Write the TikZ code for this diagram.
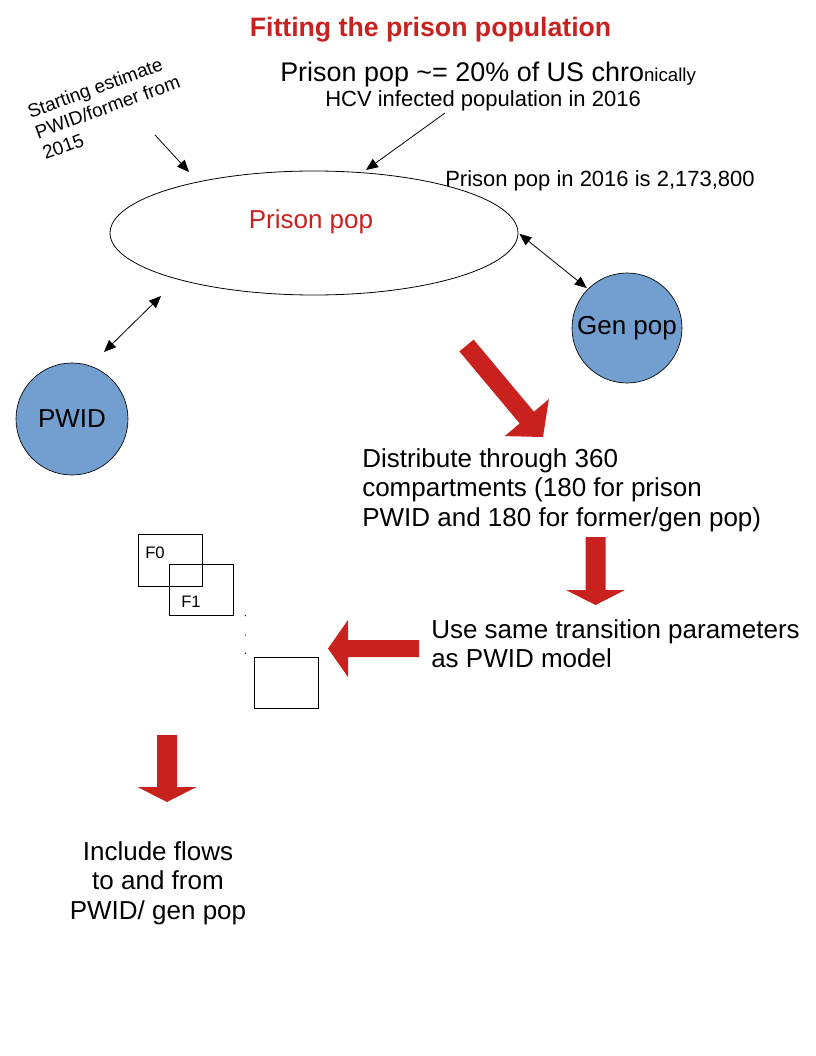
\documentclass[tikz,border=0pt]{standalone}
\usepackage{fontspec}
\setmainfont{Liberation Sans}
\usetikzlibrary{arrows.meta,shapes.geometric}
\definecolor{hred}{HTML}{C9211E}
\definecolor{hblue}{HTML}{729FCF}
\tikzset{
  thinarrow/.style={draw=black, line width=0.6pt, -{Triangle[length=9pt,width=7.5pt]}},
  dblarrow/.style={draw=black, line width=0.6pt, {Triangle[length=9pt,width=7.5pt]}-{Triangle[length=9pt,width=7.5pt]}},
  bigtext/.style={font=\fontsize{19.5pt}{22.3pt}\selectfont, inner sep=0pt, align=left},
  midtext/.style={font=\fontsize{16.5pt}{19pt}\selectfont, inner sep=0pt},
  blobnode/.style={circle, draw=black, line width=0.5pt, fill=hblue, minimum size=83pt, inner sep=0pt, font=\fontsize{19.5pt}{21.5pt}\selectfont},
  compbox/.style={draw=black, line width=0.7pt, rectangle, inner sep=0pt, anchor=north west},
  redarrow/.style={fill=hred, draw=none}
}
\begin{document}
\begin{tikzpicture}[x=0.75pt,y=-0.75pt]
\useasboundingbox (0,0) rectangle (816,1056);
% title
\node[font=\bfseries\fontsize{20pt}{24pt}\selectfont, text=hred, inner sep=0pt, anchor=base] (title) at (430.5,37) {Fitting the prison population};
% top notes
\node[inner sep=0pt, font=\fontsize{20.2pt}{24pt}\selectfont, anchor=base west] (note1) at (280,82) {Prison pop \textasciitilde= 20\% of US chro\fontsize{14pt}{18pt}\selectfont nically};
\node[midtext, anchor=base west] (note2) at (325,106) {HCV infected population in 2016};
\node[midtext, anchor=base west] (note3) at (445,186) {Prison pop in 2016 is 2,173,800};
% rotated note
\node[font=\fontsize{14.2pt}{16.5pt}\selectfont, inner sep=0pt, align=left, rotate=20, anchor=north west] (start) at (25.5,105.5) {Starting estimate\\PWID/former from\\2015};
% ellipse
\node[ellipse, draw=black, line width=0.6pt, minimum width=306pt, minimum height=93pt, inner sep=0pt] (prison) at (314,233) {};
\node[font=\fontsize{19.5pt}{21.5pt}\selectfont, text=hred, inner sep=0pt, anchor=base] (prisonlbl) at (311,228) {Prison pop};
% circles
\node[blobnode, minimum size=82.5pt] (genpop) at (627,328) {Gen pop};
\node[blobnode, minimum size=84pt] (pwid) at (72,419) {PWID};
% thin arrows
\coordinate (a1s) at (155,135);
\coordinate (a1e) at (189,172);
\coordinate (a2s) at (445,113);
\coordinate (a2e) at (366,170);
\coordinate (d2s) at (104,352);
\coordinate (d2e) at (161,296);
\draw[thinarrow] (a1s) -- (a1e);
\draw[thinarrow] (a2s) -- (a2e);
\draw[dblarrow, shorten <=1pt, shorten >=1pt] (prison.east) -- (genpop.135);
\draw[dblarrow] (d2s) -- (d2e);
% big red arrows
\fill[redarrow] (459.4,351.4) -- (519.7,423.5) -- (504.7,436.1) -- (543,437) -- (548.9,399.1) -- (533.9,411.7) -- (473.6,339.6) -- cycle;
\fill[redarrow] (585.5,537) -- (585.5,590) -- (566,590) -- (595.5,605) -- (625,590) -- (605.5,590) -- (605.5,537) -- cycle;
\fill[redarrow] (419,640) -- (348,640) -- (348,620) -- (328,648.5) -- (348,677) -- (348,657) -- (419,657) -- cycle;
\fill[redarrow] (157,735) -- (157,787) -- (137.5,787) -- (167,802) -- (196.5,787) -- (177,787) -- (177,735) -- cycle;
% texts
\node[bigtext, anchor=north west] (distr) at (362,448) {Distribute through 360\\compartments (180 for prison\\PWID and 180 for former/gen pop)};
\node[bigtext, anchor=north west] (same) at (431,619) {Use same transition parameters\\as PWID model};
\node[bigtext, align=center, anchor=north] (flows) at (158,841) {Include flows\\to and from\\PWID/ gen pop};
% compartment boxes
\node[compbox, minimum width=47.5pt, minimum height=38.5pt] (f0) at (138.3,534.3) {};
\node[compbox, minimum width=48pt, minimum height=38pt] (f1) at (169.3,564.3) {};
\node[compbox, minimum width=47.5pt, minimum height=38.5pt] (fn) at (254.3,657) {};
\node[font=\fontsize{12.5pt}{14pt}\selectfont, inner sep=0pt, anchor=base west] (f0l) at (145,558) {F0};
\node[font=\fontsize{12.5pt}{14pt}\selectfont, inner sep=0pt, anchor=base west] (f1l) at (181,607) {F1};
\fill (245.3,615.7) circle (0.5pt);
\fill (245.3,635) circle (0.5pt);
\fill (245.3,653.3) circle (0.5pt);
\end{tikzpicture}
\end{document}
